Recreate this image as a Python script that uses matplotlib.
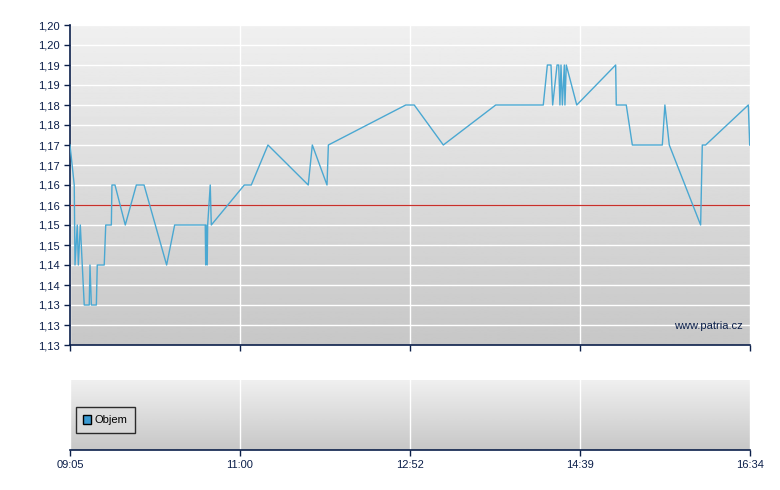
"""
Intraday price chart (patria.cz style) with an empty volume panel below.
"""

import numpy as np
import matplotlib

matplotlib.use("Agg")
import matplotlib.pyplot as plt
from matplotlib.patches import Patch

# minutes since 09:05 and traded price
minutes = [
    0, 2.8, 3.3, 4.8, 5.5, 6.8, 9.4, 12.7, 13.2, 14.1, 17.4, 18.0, 22.6, 23.6,
    27.3, 27.7, 29.7, 36.5, 43.8, 48.9, 63.8, 69.1, 89.3, 89.6, 89.9, 90.6,
    90.9, 92.6, 93.3, 115.1, 119.7, 130.7, 157.3, 160.0, 169.7, 170.6, 221.7,
    227.3, 246.5, 281.1, 312.5, 315.2, 317.6, 318.7, 321.6, 322.7, 323.5,
    324.2, 325.1, 326.4, 326.8, 327.7, 334.6, 360.3, 360.7, 367.3, 371.3,
    391.1, 392.8, 395.7, 416.4, 417.5, 419.7, 447.9, 448.8,
]
prices = [
    1.17, 1.16, 1.14, 1.15, 1.14, 1.15, 1.13, 1.13, 1.14, 1.13, 1.13, 1.14,
    1.14, 1.15, 1.15, 1.16, 1.16, 1.15, 1.16, 1.16, 1.14, 1.15, 1.15, 1.14,
    1.15, 1.14, 1.15, 1.16, 1.15, 1.16, 1.16, 1.17, 1.16, 1.17, 1.16, 1.17,
    1.18, 1.18, 1.17, 1.18, 1.18, 1.19, 1.19, 1.18, 1.19, 1.19, 1.18, 1.19,
    1.18, 1.19, 1.18, 1.19, 1.18, 1.19, 1.18, 1.18, 1.17, 1.17, 1.18, 1.17,
    1.15, 1.17, 1.17, 1.18, 1.17,
]
prev_close = 1.155

x_tick_pos = [0, 112.25, 224.5, 336.75, 449]
x_tick_labels = ["09:05", "11:00", "12:52", "14:39", "16:34"]

y_ticks = np.linspace(1.12, 1.20, 17)
y_tick_labels = [
    "1,13", "1,13", "1,13", "1,14", "1,14", "1,15", "1,15", "1,16", "1,16",
    "1,17", "1,17", "1,18", "1,18", "1,19", "1,19", "1,20", "1,20",
]

NAVY = "#0b1f4a"
plt.rcParams["font.family"] = ["Liberation Sans", "DejaVu Sans"]


def gradient_bg(ax):
    grad = np.linspace(0.94, 0.78, 256).reshape(-1, 1)
    ax.imshow(grad, cmap="gray", vmin=0, vmax=1, aspect="auto",
              extent=[0, 1, 0, 1], transform=ax.transAxes, zorder=0)


def style_axes(ax):
    for side in ["top", "right"]:
        ax.spines[side].set_visible(False)
    ax.spines["bottom"].set_color(NAVY)
    ax.spines["left"].set_color(NAVY)
    ax.spines["bottom"].set_linewidth(1.2)
    ax.spines["left"].set_linewidth(1.2)
    ax.tick_params(colors=NAVY, labelcolor=NAVY, labelsize=8, length=4,
                   width=1)


fig = plt.figure(figsize=(7.8, 4.9), dpi=100)
ax = fig.add_axes([70 / 780, 145 / 490, 680 / 780, 320 / 490])
ax_vol = fig.add_axes([70 / 780, 40 / 490, 680 / 780, 70 / 490])

# price panel
gradient_bg(ax)
ax.set_axisbelow(True)
ax.grid(True, color="white", lw=1)
ax.plot(minutes, prices, color="#4aa8d2", lw=1, zorder=4)
ax.axhline(prev_close, color="#c8302a", lw=0.9, zorder=3)
ax.set_xlim(0, 449)
ax.set_ylim(1.12, 1.20)
ax.set_yticks(y_ticks)
ax.set_yticklabels(y_tick_labels)
ax.set_xticks(x_tick_pos)
ax.set_xticklabels([])
style_axes(ax)
ax.text(0.99, 0.06, "www.patria.cz", transform=ax.transAxes, ha="right",
        va="center", fontsize=8, color=NAVY, zorder=5)

# volume panel (no volume shown)
gradient_bg(ax_vol)
ax_vol.set_axisbelow(True)
ax_vol.set_xlim(0, 449)
ax_vol.set_ylim(0, 1)
ax_vol.set_xticks(x_tick_pos)
ax_vol.set_xticklabels(x_tick_labels)
ax_vol.set_yticks([])
ax_vol.grid(True, axis="x", color="white", lw=1)
style_axes(ax_vol)
ax_vol.spines["left"].set_visible(False)
leg = ax_vol.legend(
    handles=[Patch(facecolor="#3a9ad2", edgecolor="black", label="Objem")],
    loc="center left", bbox_to_anchor=(0.0, 0.43), fontsize=8,
    frameon=True, fancybox=False, edgecolor="black", handlelength=0.7,
    handleheight=0.9, handletextpad=0.3, borderpad=0.7,
)
leg.get_frame().set_facecolor("#dcdcdc")
leg.get_frame().set_linewidth(1)

fig.savefig("out.png", dpi=100)
